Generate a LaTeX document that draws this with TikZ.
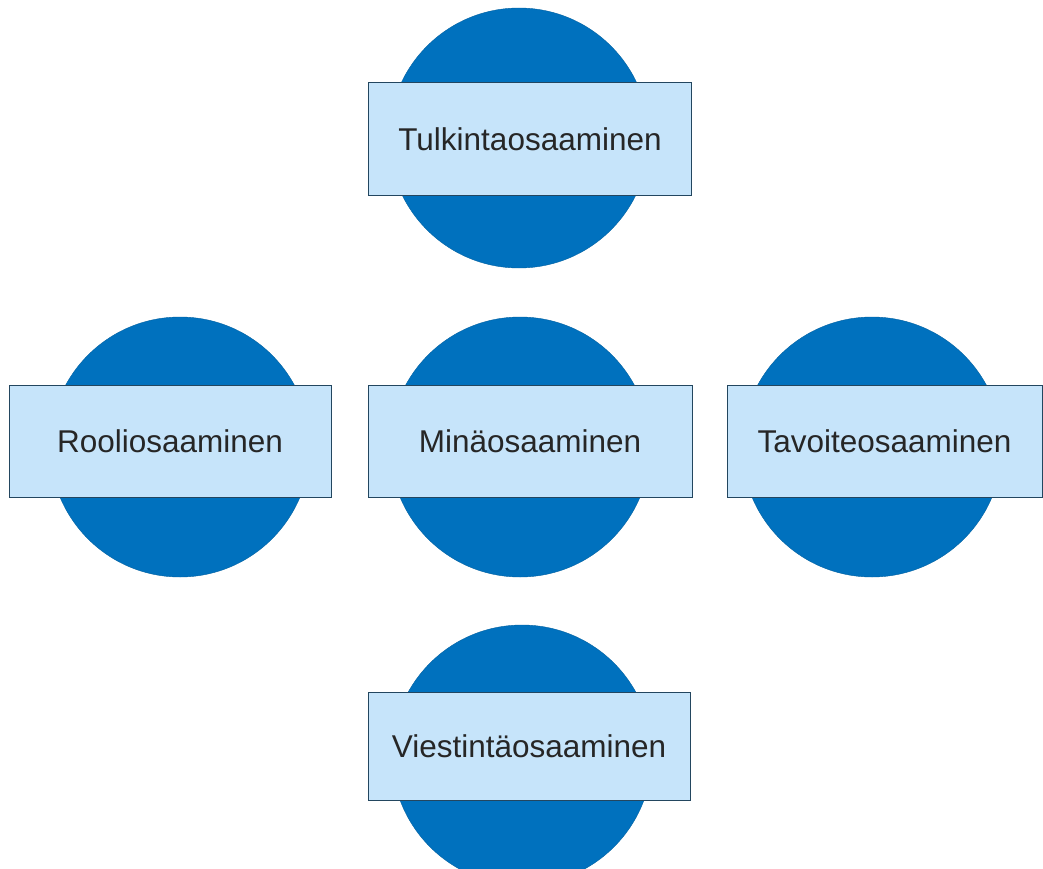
\documentclass[tikz,border=0pt]{standalone}
\usepackage{fontspec}
\setmainfont{Liberation Sans}
\definecolor{disc}{RGB}{0,113,190}
\definecolor{lbl}{RGB}{198,228,250}
\definecolor{edge}{RGB}{35,70,95}

\begin{document}
\begin{tikzpicture}[x=1pt,y=-1pt,
    ball/.style={circle,fill=disc,draw=disc!85!black,minimum size=260pt,inner sep=0pt},
    tag/.style={rectangle,fill=lbl,draw=edge,line width=1pt,minimum width=323pt,
        minimum height=112pt,inner sep=0pt,text=black!85,font=\fontsize{31.5}{38}\selectfont}]
    \useasboundingbox (0,0) rectangle (1043,869);
    \clip (0,0) rectangle (1043,869);
    %
    \node[ball] (tulB) at (519,138) {};
    \node[ball] (rooB) at (180,447) {};
    \node[ball] (minB) at (520,447) {};
    \node[ball] (tavB) at (872,447) {};
    \node[ball] (vieB) at (522,755) {};
    %
    \node[tag] (tul) at (530,139) {Tulkintaosaaminen};
    \node[tag,minimum width=322pt] (roo) at (170,441) {Rooliosaaminen};
    \node[tag,minimum width=324pt,text depth=0pt] (min) at (530,441) {Minäosaaminen};
    \node[tag,minimum width=315pt] (tav) at (884.5,441) {Tavoiteosaaminen};
    \node[tag,minimum width=322pt,minimum height=108pt,text depth=0pt] (vie) at (529,746) {Viestintäosaaminen};
    %
\end{tikzpicture}
\end{document}
